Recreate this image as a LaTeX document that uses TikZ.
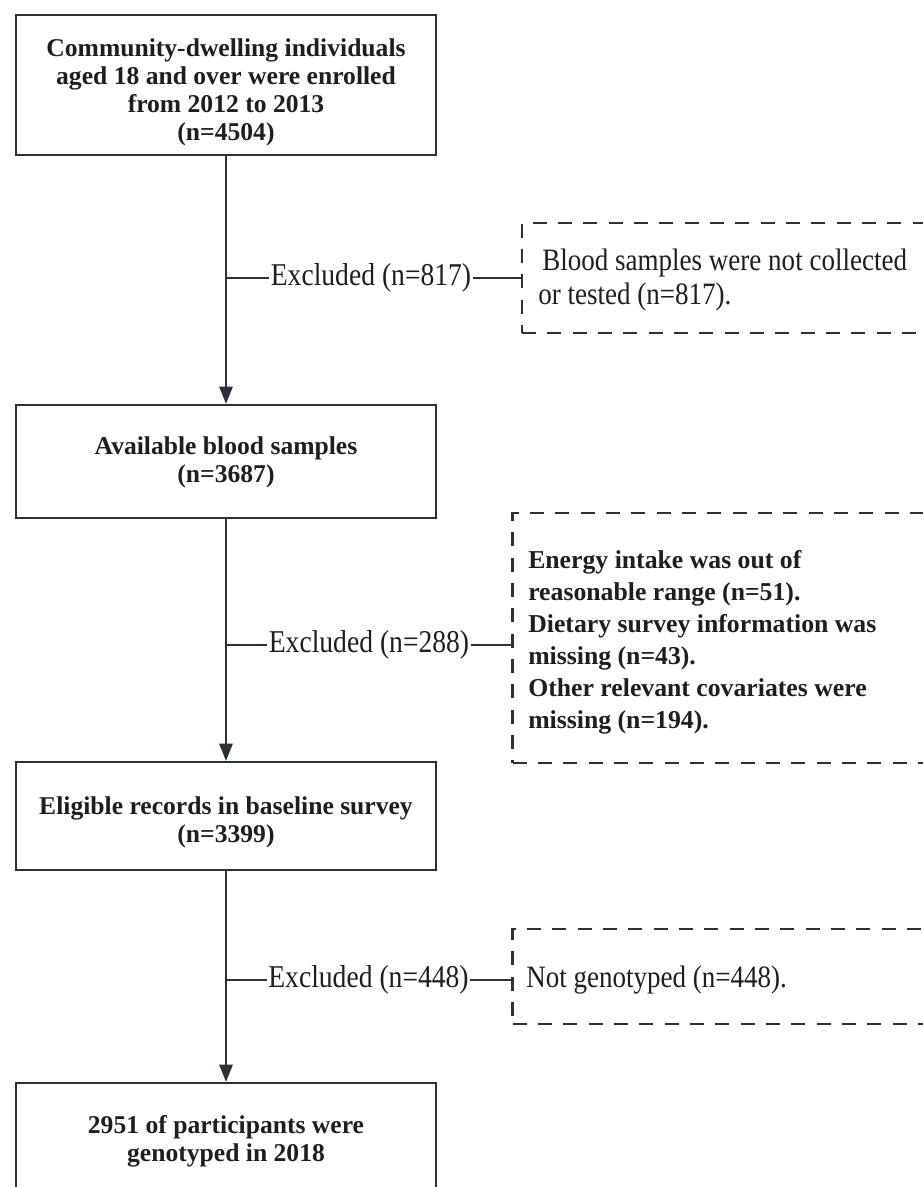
\documentclass[tikz,border=0pt]{standalone}
\usepackage{fontspec}
\setmainfont{Liberation Serif}
\newfontfamily\condfont[FakeStretch=0.87]{Liberation Serif}
\usetikzlibrary{arrows.meta}
\definecolor{linec}{HTML}{2B3137}
\definecolor{textc}{HTML}{1E1E1E}
\begin{document}
\begin{tikzpicture}[x=0.75pt,y=-0.75pt,
  mainbox/.style={draw=linec, line width=1.7pt, minimum width=315pt, inner sep=0pt},
  dbox/.style={draw=linec, line width=1.8pt, dash pattern=on 10.5pt off 8.5pt, inner sep=0pt},
  btext/.style={text=textc, align=center, font=\fontsize{19.2}{21}\selectfont\bfseries, inner sep=0pt},
  dbtext/.style={text=textc, align=left, font=\fontsize{19.3}{24}\selectfont\bfseries, inner sep=0pt},
  rtext/.style={text=textc, align=left, font=\condfont\fontsize{23.3}{25.5}\selectfont, inner sep=0pt},
  extext/.style={text=textc, font=\condfont\fontsize{23.8}{25}\selectfont, inner sep=1pt},
  conn/.style={draw=linec, line width=1.5pt},
  arr/.style={conn, -{Triangle[length=13pt,width=10pt]}}]
\useasboundingbox (0,0) rectangle (923,1187);
\clip (0,0) rectangle (923,1187);
% main boxes
\node[mainbox, minimum height=105pt] (b1) at (226,85) {};
\node[btext] at (226,92) {Community-dwelling individuals\\aged 18 and over were enrolled\\from 2012 to 2013\\(n=4504)};
\node[mainbox, minimum height=84.75pt] (b2) at (226,461.5) {};
\node[btext] at (226,462) {Available blood samples\\(n=3687)};
\node[mainbox, minimum height=81pt] (b3) at (226,816) {};
\node[btext] at (226,822) {Eligible records in baseline survey\\(n=3399)};
\node[mainbox, minimum height=87pt] (b4) at (226,1141) {};
\node[btext] at (226,1141) {2951 of participants were\\genotyped in 2018};
% dashed boxes
\node[dbox, minimum width=310pt, minimum height=82.5pt] (d1) at (728.5,278) {};
\node[rtext, anchor=west] at (538,280) {\hspace{3pt}Blood samples were not collected\\or tested (n=817).};
\node[dbox, minimum width=317pt, minimum height=187.5pt] (d2) at (724,638) {};
\node[dbtext, anchor=west] at (528,642.5) {Energy intake was out of\\reasonable range (n=51).\\Dietary survey information was\\missing (n=43).\\Other relevant covariates were\\missing (n=194).};
\node[dbox, minimum width=317pt, minimum height=71.25pt] (d3) at (724,976.5) {};
\node[rtext, anchor=west] at (526,980) {Not genotyped (n=448).};
% arrows
\draw[arr] (b1.south) -- (b2.north);
\draw[arr] (b2.south) -- (b3.north);
\draw[arr] (b3.south) -- (b4.north);
% exclusions
\coordinate (j1) at (226,278);
\coordinate (j2) at (226,645);
\coordinate (j3) at (226,980);
\node[extext] (e1) at (371,278) {Excluded (n=817)};
\node[extext] (e2) at (369,645) {Excluded (n=288)};
\node[extext] (e3) at (368.5,980) {Excluded (n=448)};
\draw[conn] (j1) -- (e1.west);
\draw[conn] (e1.east) -- (e1.east -| d1.west);
\draw[conn] (j2) -- (e2.west);
\draw[conn] (e2.east) -- (e2.east -| d2.west);
\draw[conn] (j3) -- (e3.west);
\draw[conn] (e3.east) -- (e3.east -| d3.west);
\end{tikzpicture}
\end{document}
